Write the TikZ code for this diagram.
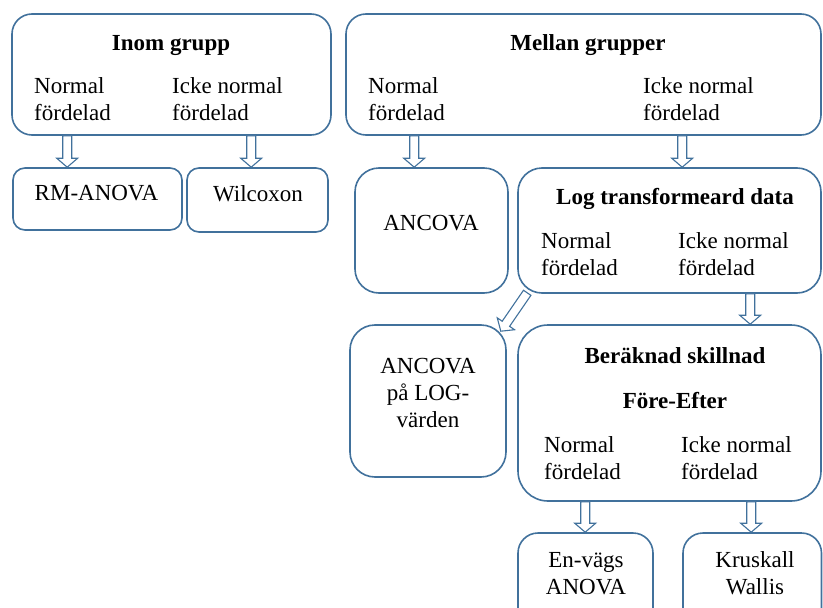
\documentclass[tikz,border=0pt]{standalone}
\usepackage{fontspec}
\setmainfont{Liberation Serif}
\usetikzlibrary{calc}
\definecolor{bc}{HTML}{41719C}
\begin{document}
\begin{tikzpicture}[x=1pt,y=-1pt,
  box/.style={draw=bc, line width=1.6pt, fill=white, rounded corners=#1, inner sep=0pt},
  box/.default=20pt,
  txt/.style={inner sep=0pt, font=\fontsize{23}{27}\selectfont},
  hd/.style={inner sep=0pt, font=\fontsize{23}{27}\selectfont\bfseries},
  blk/.style={draw=bc, line width=1.1pt, fill=white, line join=miter,
    to path={
      ($(\tikztostart)!4.5pt!90:(\tikztotarget)$)
      -- ($(\tikztotarget)!9pt!(\tikztostart)!4.5pt!-90:(\tikztostart)$)
      -- ($(\tikztotarget)!9pt!(\tikztostart)!10.5pt!-90:(\tikztostart)$)
      -- (\tikztotarget)
      -- ($(\tikztotarget)!9pt!(\tikztostart)!10.5pt!90:(\tikztostart)$)
      -- ($(\tikztotarget)!9pt!(\tikztostart)!4.5pt!90:(\tikztostart)$)
      -- ($(\tikztostart)!4.5pt!-90:(\tikztotarget)$)
      -- cycle}}]
\useasboundingbox (0,0) rectangle (823,608);
\clip (0,0) rectangle (823,608);

% boxes
\node[box=20pt, minimum width=319pt, minimum height=121pt] (b1) at (171.5,74.5) {};
\node[box=20pt, minimum width=475pt, minimum height=121pt] (b2) at (583.5,74.5) {};
\node[box=12pt, minimum width=169pt, minimum height=62pt] (rm) at (97.5,199) {};
\node[box=12pt, minimum width=141pt, minimum height=64pt] (wil) at (257.5,200) {};
\node[box=24pt, minimum width=153pt, minimum height=125pt] (anc) at (431.5,230.5) {};
\node[box=24pt, minimum width=303pt, minimum height=125pt] (log) at (669.5,230.5) {};
\node[box=25pt, minimum width=156pt, minimum height=152pt] (ancl) at (428,401) {};
\node[box=30pt, minimum width=303pt, minimum height=176pt] (ber) at (669.5,413) {};
\node[box=20pt, minimum width=135pt, minimum height=97pt] (env) at (585.5,581.5) {};
\node[box=20pt, minimum width=138.5pt, minimum height=97pt] (kru) at (752.25,581.5) {};

% texts
\node[hd, anchor=base] (t1h) at (171,50) {Inom grupp};
\node[txt, anchor=base west] (t1a) at (34,93) {Normal};
\node[txt, anchor=base west] (t1b) at (34,120) {fördelad};
\node[txt, anchor=base west] (t1c) at (172,93) {Icke normal};
\node[txt, anchor=base west] (t1d) at (172,120) {fördelad};

\node[hd, anchor=base] (t2h) at (588,50) {Mellan grupper};
\node[txt, anchor=base west] (t2a) at (368,93) {Normal};
\node[txt, anchor=base west] (t2b) at (368,120) {fördelad};
\node[txt, anchor=base west] (t2c) at (643,93) {Icke normal};
\node[txt, anchor=base west] (t2d) at (643,120) {fördelad};

\node[txt, anchor=base] (trm) at (96.5,200) {RM-ANOVA};
\node[txt, anchor=base] (twil) at (258,201) {Wilcoxon};
\node[txt, anchor=base] (tanc) at (431,230) {ANCOVA};

\node[hd, anchor=base] (tlh) at (675,204) {Log transformeard data};
\node[txt, anchor=base west] (tla) at (541,248) {Normal};
\node[txt, anchor=base west] (tlb) at (541,275) {fördelad};
\node[txt, anchor=base west] (tlc) at (678,248) {Icke normal};
\node[txt, anchor=base west] (tld) at (678,275) {fördelad};

\node[txt, anchor=base] (tal1) at (428,373) {ANCOVA};
\node[txt, anchor=base] (tal2) at (428,400) {på LOG-};
\node[txt, anchor=base] (tal3) at (428,427) {värden};

\node[hd, anchor=base] (tbh1) at (675,363) {Beräknad skillnad};
\node[hd, anchor=base] (tbh2) at (675,408) {Före-Efter};
\node[txt, anchor=base west] (tba) at (544,452) {Normal};
\node[txt, anchor=base west] (tbb) at (544,479) {fördelad};
\node[txt, anchor=base west] (tbc) at (681,452) {Icke normal};
\node[txt, anchor=base west] (tbd) at (681,479) {fördelad};

\node[txt, anchor=base] (te1) at (586,567) {En-vägs};
\node[txt, anchor=base] (te2) at (586,594) {ANOVA};
\node[txt, anchor=base] (tk1) at (755,567) {Kruskall};
\node[txt, anchor=base] (tk2) at (755,594) {Wallis};

% arrow end points
\coordinate (a1s) at ([shift={(56,0)}]b1.south west);
\coordinate (a1e) at ([shift={(55,0)}]rm.north west);
\coordinate (a2s) at ([shift={(240,0)}]b1.south west);
\coordinate (a2e) at ([shift={(65,0)}]wil.north west);
\coordinate (a3s) at ([shift={(69,0)}]b2.south west);
\coordinate (a3e) at ([shift={(60,0)}]anc.north west);
\coordinate (a4s) at ([shift={(337,0)}]b2.south west);
\coordinate (a4e) at ([shift={(165,0)}]log.north west);
\coordinate (a5s) at ([shift={(10,-1)}]log.south west);
\coordinate (a5e) at ([shift={(-6,7)}]ancl.north east);
\coordinate (a6s) at ([shift={(233,0)}]log.south west);
\coordinate (a6e) at ([shift={(233,0)}]ber.north west);
\coordinate (a7s) at ([shift={(68,0)}]ber.south west);
\coordinate (a7e) at ([shift={(68,0)}]env.north west);
\coordinate (a8s) at ([shift={(234,0)}]ber.south west);
\coordinate (a8e) at ([shift={(69,0)}]kru.north west);

\draw[blk] (a1s) to (a1e);
\draw[blk] (a2s) to (a2e);
\draw[blk] (a3s) to (a3e);
\draw[blk] (a4s) to (a4e);
\draw[blk] (a5s) to (a5e);
\draw[blk] (a6s) to (a6e);
\draw[blk] (a7s) to (a7e);
\draw[blk] (a8s) to (a8e);
\end{tikzpicture}
\end{document}
